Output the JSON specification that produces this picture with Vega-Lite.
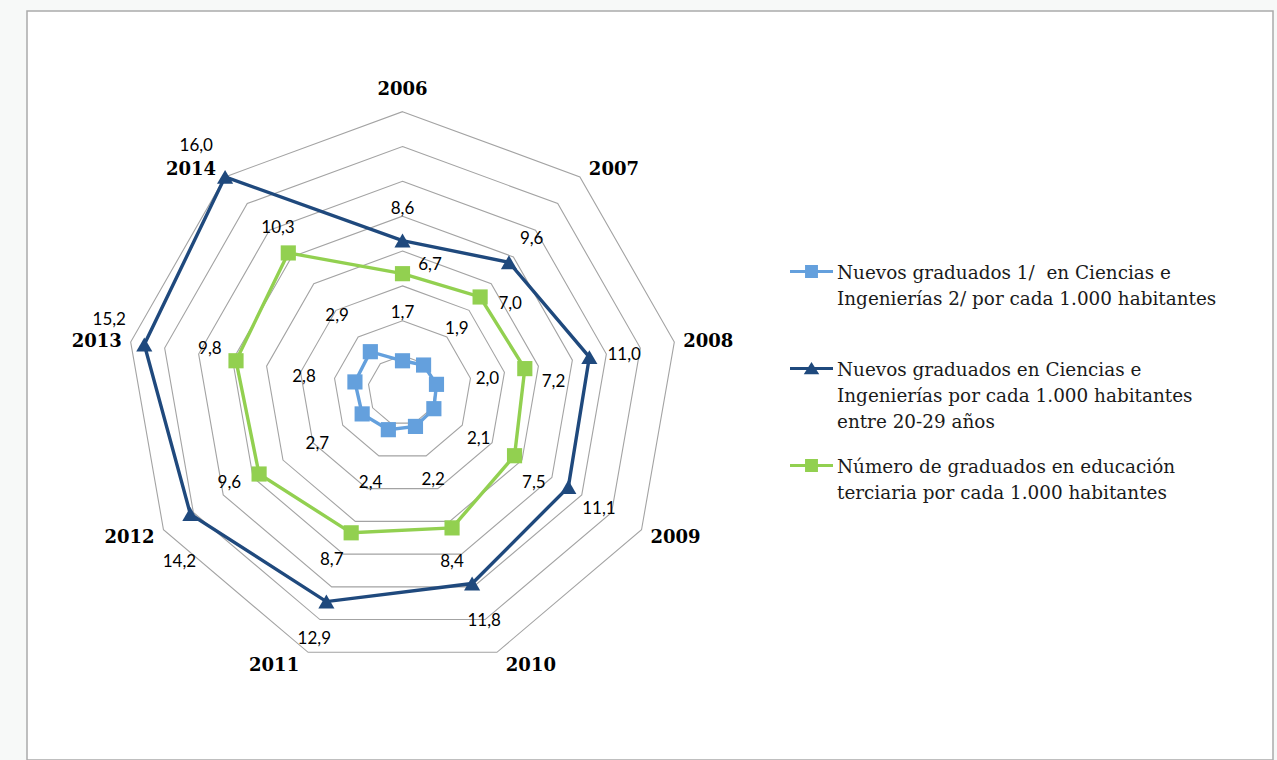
{
  "$schema": "https://vega.github.io/schema/vega-lite/v6.json",
  "width": 1246,
  "height": 749,
  "autosize": {"type": "none"},
  "padding": {"left": 27, "top": 11, "right": 4, "bottom": 0},
  "background": "#F7F9F8",
  "config": {
    "view": {"stroke": "#ABABAB", "strokeWidth": 1.5, "fill": "#FFFFFF"},
    "style": {"guide-label": {"lineHeight": 26}}
  },
  "resolve": {"legend": {"color": "independent", "shape": "independent"}},
  "datasets": {
    "series": [
      {"series": "Nuevos graduados 1/  en Ciencias e Ingenierías 2/ por cada 1.000 habitantes", "year": 2006, "value": 1.7},
      {"series": "Nuevos graduados 1/  en Ciencias e Ingenierías 2/ por cada 1.000 habitantes", "year": 2007, "value": 1.9},
      {"series": "Nuevos graduados 1/  en Ciencias e Ingenierías 2/ por cada 1.000 habitantes", "year": 2008, "value": 2.0},
      {"series": "Nuevos graduados 1/  en Ciencias e Ingenierías 2/ por cada 1.000 habitantes", "year": 2009, "value": 2.1},
      {"series": "Nuevos graduados 1/  en Ciencias e Ingenierías 2/ por cada 1.000 habitantes", "year": 2010, "value": 2.2},
      {"series": "Nuevos graduados 1/  en Ciencias e Ingenierías 2/ por cada 1.000 habitantes", "year": 2011, "value": 2.4},
      {"series": "Nuevos graduados 1/  en Ciencias e Ingenierías 2/ por cada 1.000 habitantes", "year": 2012, "value": 2.7},
      {"series": "Nuevos graduados 1/  en Ciencias e Ingenierías 2/ por cada 1.000 habitantes", "year": 2013, "value": 2.8},
      {"series": "Nuevos graduados 1/  en Ciencias e Ingenierías 2/ por cada 1.000 habitantes", "year": 2014, "value": 2.9},
      {"series": "Nuevos graduados en Ciencias e Ingenierías por cada 1.000 habitantes entre 20-29 años", "year": 2006, "value": 8.6},
      {"series": "Nuevos graduados en Ciencias e Ingenierías por cada 1.000 habitantes entre 20-29 años", "year": 2007, "value": 9.6},
      {"series": "Nuevos graduados en Ciencias e Ingenierías por cada 1.000 habitantes entre 20-29 años", "year": 2008, "value": 11.0},
      {"series": "Nuevos graduados en Ciencias e Ingenierías por cada 1.000 habitantes entre 20-29 años", "year": 2009, "value": 11.1},
      {"series": "Nuevos graduados en Ciencias e Ingenierías por cada 1.000 habitantes entre 20-29 años", "year": 2010, "value": 11.8},
      {"series": "Nuevos graduados en Ciencias e Ingenierías por cada 1.000 habitantes entre 20-29 años", "year": 2011, "value": 12.9},
      {"series": "Nuevos graduados en Ciencias e Ingenierías por cada 1.000 habitantes entre 20-29 años", "year": 2012, "value": 14.2},
      {"series": "Nuevos graduados en Ciencias e Ingenierías por cada 1.000 habitantes entre 20-29 años", "year": 2013, "value": 15.2},
      {"series": "Nuevos graduados en Ciencias e Ingenierías por cada 1.000 habitantes entre 20-29 años", "year": 2014, "value": 16.0},
      {"series": "Número de graduados en educación terciaria por cada 1.000 habitantes", "year": 2006, "value": 6.7},
      {"series": "Número de graduados en educación terciaria por cada 1.000 habitantes", "year": 2007, "value": 7.0},
      {"series": "Número de graduados en educación terciaria por cada 1.000 habitantes", "year": 2008, "value": 7.2},
      {"series": "Número de graduados en educación terciaria por cada 1.000 habitantes", "year": 2009, "value": 7.5},
      {"series": "Número de graduados en educación terciaria por cada 1.000 habitantes", "year": 2010, "value": 8.4},
      {"series": "Número de graduados en educación terciaria por cada 1.000 habitantes", "year": 2011, "value": 8.7},
      {"series": "Número de graduados en educación terciaria por cada 1.000 habitantes", "year": 2012, "value": 9.6},
      {"series": "Número de graduados en educación terciaria por cada 1.000 habitantes", "year": 2013, "value": 9.8},
      {"series": "Número de graduados en educación terciaria por cada 1.000 habitantes", "year": 2014, "value": 10.3}
    ],
    "grid": [
      {"level": 2, "year": [2006, 2007, 2008, 2009, 2010, 2011, 2012, 2013, 2014]},
      {"level": 4, "year": [2006, 2007, 2008, 2009, 2010, 2011, 2012, 2013, 2014]},
      {"level": 6, "year": [2006, 2007, 2008, 2009, 2010, 2011, 2012, 2013, 2014]},
      {"level": 8, "year": [2006, 2007, 2008, 2009, 2010, 2011, 2012, 2013, 2014]},
      {"level": 10, "year": [2006, 2007, 2008, 2009, 2010, 2011, 2012, 2013, 2014]},
      {"level": 12, "year": [2006, 2007, 2008, 2009, 2010, 2011, 2012, 2013, 2014]},
      {"level": 14, "year": [2006, 2007, 2008, 2009, 2010, 2011, 2012, 2013, 2014]},
      {"level": 16, "year": [2006, 2007, 2008, 2009, 2010, 2011, 2012, 2013, 2014]}
    ]
  },
  "layer": [
    {
      "data": {"name": "grid"},
      "transform": [
        {"flatten": ["year"]},
        {"calculate": "(datum.year - 2006) * 2 * PI / 9", "as": "theta"},
        {"calculate": "datum.level * sin(datum.theta)", "as": "px"},
        {"calculate": "datum.level * cos(datum.theta)", "as": "py"}
      ],
      "mark": {"type": "line", "interpolate": "linear-closed", "stroke": "#A3A3A3", "strokeWidth": 1.1},
      "encoding": {
        "x": {"field": "px", "type": "quantitative", "scale": {"domain": [-21.768, 50.464], "nice": false, "zero": false}, "axis": null},
        "y": {"field": "py", "type": "quantitative", "scale": {"domain": [-21.217, 21.779], "nice": false, "zero": false}, "axis": null},
        "detail": {"field": "level", "type": "nominal"},
        "order": {"field": "year", "type": "quantitative"}
      }
    },
    {
      "data": {"name": "series"},
      "transform": [
        {"calculate": "(datum.year - 2006) * 2 * PI / 9", "as": "theta"},
        {"calculate": "datum.value * sin(datum.theta)", "as": "px"},
        {"calculate": "datum.value * cos(datum.theta)", "as": "py"}
      ],
      "mark": {"type": "line", "interpolate": "linear-closed", "strokeWidth": 3.4},
      "encoding": {
        "x": {"field": "px", "type": "quantitative", "scale": {"domain": [-21.768, 50.464], "nice": false, "zero": false}, "axis": null},
        "y": {"field": "py", "type": "quantitative", "scale": {"domain": [-21.217, 21.779], "nice": false, "zero": false}, "axis": null},
        "color": {
          "field": "series", "type": "nominal", "legend": null,
          "scale": {
            "domain": [
              "Nuevos graduados 1/  en Ciencias e Ingenierías 2/ por cada 1.000 habitantes",
              "Nuevos graduados en Ciencias e Ingenierías por cada 1.000 habitantes entre 20-29 años",
              "Número de graduados en educación terciaria por cada 1.000 habitantes"
            ],
            "range": ["#64A0DD", "#1F497D", "#92D050"]
          }
        },
        "order": {"field": "year", "type": "quantitative"}
      }
    },
    {
      "data": {"name": "series"},
      "transform": [
        {"filter": "indexof(datum.series, '20-29') < 0"},
        {"calculate": "(datum.year - 2006) * 2 * PI / 9", "as": "theta"},
        {"calculate": "datum.value * sin(datum.theta)", "as": "px"},
        {"calculate": "datum.value * cos(datum.theta)", "as": "py"}
      ],
      "mark": {"type": "point", "shape": "square", "filled": true, "opacity": 1, "size": 230},
      "encoding": {
        "x": {"field": "px", "type": "quantitative", "scale": {"domain": [-21.768, 50.464], "nice": false, "zero": false}, "axis": null},
        "y": {"field": "py", "type": "quantitative", "scale": {"domain": [-21.217, 21.779], "nice": false, "zero": false}, "axis": null},
        "color": {"field": "series", "type": "nominal", "legend": null}
      }
    },
    {
      "data": {"name": "series"},
      "transform": [
        {"filter": "indexof(datum.series, '20-29') >= 0"},
        {"calculate": "(datum.year - 2006) * 2 * PI / 9", "as": "theta"},
        {"calculate": "datum.value * sin(datum.theta)", "as": "px"},
        {"calculate": "datum.value * cos(datum.theta)", "as": "py"}
      ],
      "mark": {"type": "point", "shape": "triangle-up", "filled": true, "opacity": 1, "size": 260},
      "encoding": {
        "x": {"field": "px", "type": "quantitative", "scale": {"domain": [-21.768, 50.464], "nice": false, "zero": false}, "axis": null},
        "y": {"field": "py", "type": "quantitative", "scale": {"domain": [-21.217, 21.779], "nice": false, "zero": false}, "axis": null},
        "color": {"field": "series", "type": "nominal", "legend": null}
      }
    },
    {
      "data": {"name": "series"},
      "transform": [
        {"calculate": "(datum.year - 2006) * 2 * PI / 9", "as": "theta"},
        {"calculate": "indexof(datum.series, '20-29') >= 0", "as": "isDark"},
        {"calculate": "indexof(datum.series, 'terciaria') >= 0", "as": "isGreen"},
        {"calculate": "datum.isDark ? (sin(datum.theta) < -0.8 ? (cos(datum.theta) > 0 ? datum.theta + 0.5 : datum.theta - 0.8) : datum.theta) : datum.isGreen ? datum.theta + 0.35 + (sin(datum.theta) >= -0.01 ? 0.8 * max(0, cos(datum.theta)) : 0) : datum.theta", "as": "dir"},
        {"calculate": "datum.isDark ? (sin(datum.theta) < -0.6 ? 2.6 : 2.05) : datum.isGreen ? 1.75 : 3.0", "as": "dist"},
        {"calculate": "datum.value * sin(datum.theta) + datum.dist * sin(datum.dir)", "as": "lx"},
        {"calculate": "datum.value * cos(datum.theta) + datum.dist * cos(datum.dir)", "as": "ly"},
        {"calculate": "replace(format(datum.value, '.1f'), '.', ',')", "as": "label"}
      ],
      "mark": {"type": "text", "font": "Lato", "fontSize": 17, "fill": "#000000", "align": "center", "baseline": "middle", "dy": 4},
      "encoding": {
        "x": {"field": "lx", "type": "quantitative", "scale": {"domain": [-21.768, 50.464], "nice": false, "zero": false}, "axis": null},
        "y": {"field": "ly", "type": "quantitative", "scale": {"domain": [-21.217, 21.779], "nice": false, "zero": false}, "axis": null},
        "text": {"field": "label", "type": "nominal"}
      }
    },
    {
      "data": {"name": "series"},
      "transform": [
        {"filter": "indexof(datum.series, '20-29') >= 0"},
        {"calculate": "(datum.year - 2006) * 2 * PI / 9", "as": "theta"},
        {"calculate": "abs(sin(datum.theta)) < 0.01 ? 0 : 16 * sin(datum.theta) + (sin(datum.theta) > 0 ? 1.971 : -1.971)", "as": "tx"},
        {"calculate": "abs(sin(datum.theta)) < 0.01 ? 17.246 : 16.689 * cos(datum.theta) - 0.115", "as": "ty"},
        {"calculate": "toString(datum.year)", "as": "ylabel"}
      ],
      "mark": {"type": "text", "font": "DejaVu Serif", "fontWeight": "bold", "fontSize": 18, "fill": "#000000", "align": "center", "baseline": "middle"},
      "encoding": {
        "x": {"field": "tx", "type": "quantitative", "scale": {"domain": [-21.768, 50.464], "nice": false, "zero": false}, "axis": null},
        "y": {"field": "ty", "type": "quantitative", "scale": {"domain": [-21.217, 21.779], "nice": false, "zero": false}, "axis": null},
        "text": {"field": "ylabel", "type": "nominal"}
      }
    },
    {
      "data": {"name": "series"},
      "transform": [
        {"filter": "datum.year == 2006"},
        {"calculate": "datum.value * 0", "as": "px"},
        {"calculate": "datum.value * 0", "as": "py"}
      ],
      "mark": {"type": "point", "filled": true, "opacity": 0, "size": 1849},
      "encoding": {
        "x": {"field": "px", "type": "quantitative", "scale": {"domain": [-21.768, 50.464], "nice": false, "zero": false}, "axis": null},
        "y": {"field": "py", "type": "quantitative", "scale": {"domain": [-21.217, 21.779], "nice": false, "zero": false}, "axis": null},
        "color": {
          "field": "series", "type": "nominal",
          "legend": {
            "title": null,
            "orient": "none",
            "legendX": 763,
            "legendY": 231,
            "symbolSize": 1849,
            "symbolStrokeWidth": 0,
            "symbolOpacity": 1,
            "labelFont": "DejaVu Serif",
            "labelFontSize": 18.4,
            "labelColor": "#1A1A1A",
            "labelOffset": 4,
            "labelLimit": 700,
            "labelBaseline": "top",
            "rowPadding": 5,
            "gridAlign": "all",
            "labelExpr": "indexof(datum.label, '20-29') >= 0 ? ['Nuevos graduados en Ciencias e', 'Ingenierías por cada 1.000 habitantes', 'entre 20-29 años'] : indexof(datum.label, 'terciaria') >= 0 ? ['Número de graduados en educación', 'terciaria por cada 1.000 habitantes'] : ['Nuevos graduados 1/\u00a0 en Ciencias e', 'Ingenierías 2/ por cada 1.000 habitantes']"
          }
        },
        "shape": {
          "field": "series", "type": "nominal",
          "legend": {
            "title": null,
            "orient": "none",
            "legendX": 763,
            "legendY": 231,
            "symbolSize": 1849,
            "symbolStrokeWidth": 0,
            "symbolOpacity": 1,
            "labelFont": "DejaVu Serif",
            "labelFontSize": 18.4,
            "labelColor": "#1A1A1A",
            "labelOffset": 4,
            "labelLimit": 700,
            "labelBaseline": "top",
            "rowPadding": 5,
            "gridAlign": "all",
            "labelExpr": "indexof(datum.label, '20-29') >= 0 ? ['Nuevos graduados en Ciencias e', 'Ingenierías por cada 1.000 habitantes', 'entre 20-29 años'] : indexof(datum.label, 'terciaria') >= 0 ? ['Número de graduados en educación', 'terciaria por cada 1.000 habitantes'] : ['Nuevos graduados 1/\u00a0 en Ciencias e', 'Ingenierías 2/ por cada 1.000 habitantes']"
          },
          "scale": {
            "domain": [
              "Nuevos graduados 1/  en Ciencias e Ingenierías 2/ por cada 1.000 habitantes",
              "Nuevos graduados en Ciencias e Ingenierías por cada 1.000 habitantes entre 20-29 años",
              "Número de graduados en educación terciaria por cada 1.000 habitantes"
            ],
            "range": [
              "M-1,0.3H1V0.44H-1ZM-0.3,0.07H0.3V0.67H-0.3Z",
              "M-1,0.3H1V0.44H-1ZM-0.36,0.64L0,0.07L0.36,0.64Z",
              "M-1,0.3H1V0.44H-1ZM-0.3,0.07H0.3V0.67H-0.3Z"
            ]
          }
        }
      }
    }
  ]
}
